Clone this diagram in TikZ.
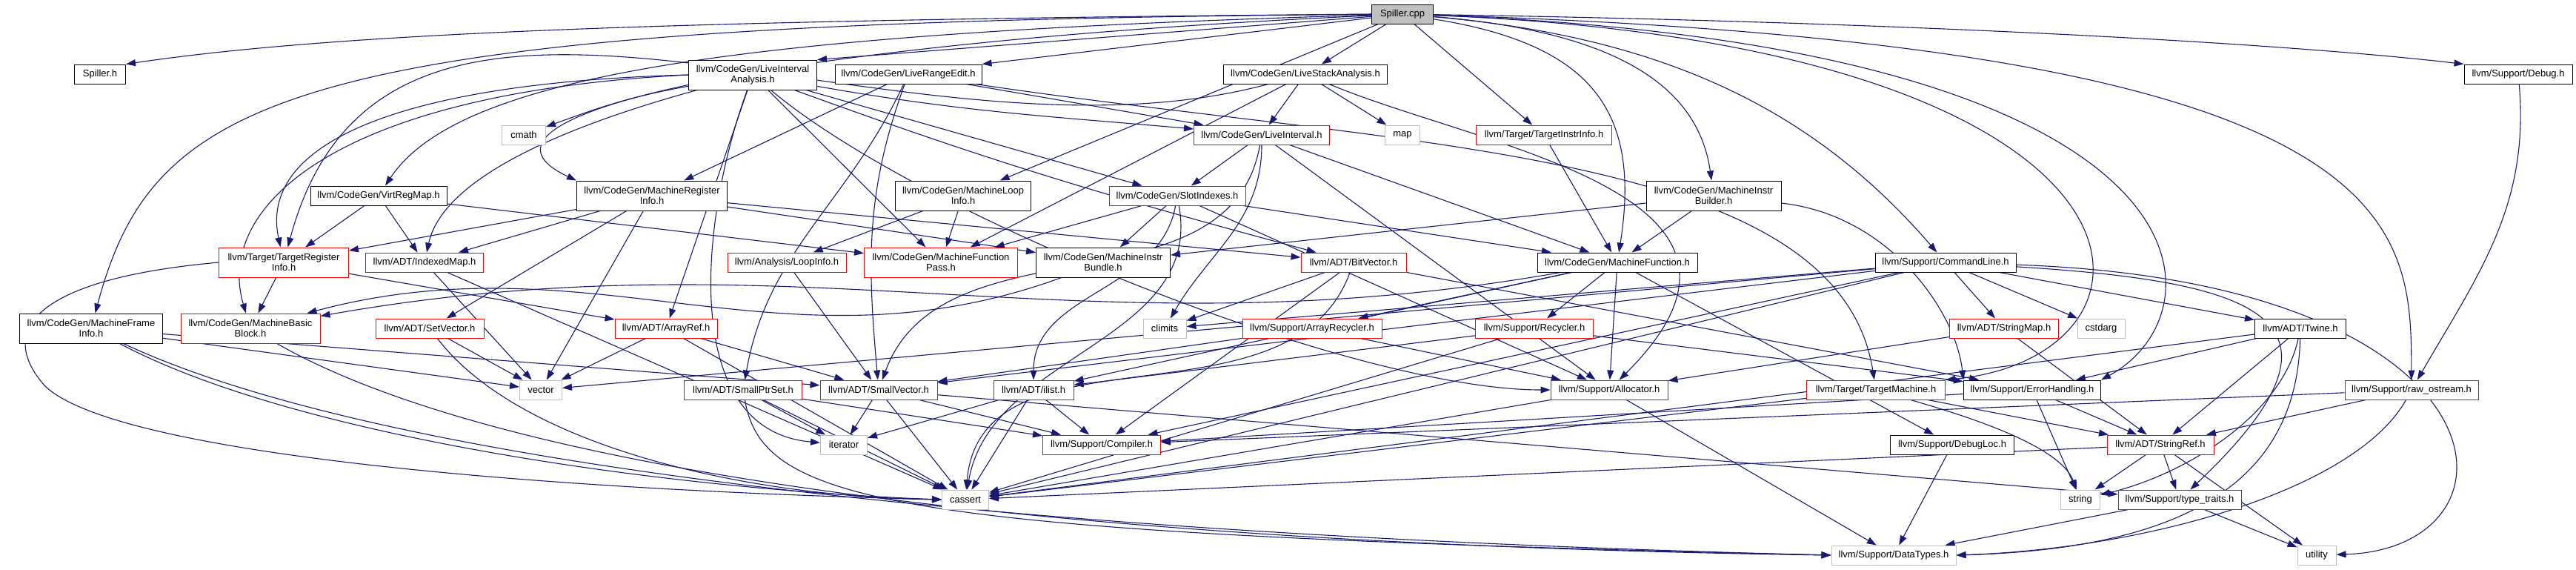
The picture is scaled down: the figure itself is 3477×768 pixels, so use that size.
\documentclass[tikz,border=0pt]{standalone}
\usepackage{fontspec}
\setmainfont{Liberation Sans}
\usetikzlibrary{arrows.meta}
\definecolor{edgeblue}{HTML}{191970}
\definecolor{extgrey}{HTML}{BFBFBF}
\pgfdeclarelayer{background}
\pgfsetlayers{background,main}

\begin{document}
\begin{tikzpicture}[x=0.1pt, y=-0.1pt,
  hdr/.style={draw, rectangle, fill=white, font=\fontsize{1.3}{1.4}\selectfont, align=center, inner sep=0pt, minimum height=2.6pt, line width=0.1pt},
  two/.style={minimum height=4pt},
  wd/.style={minimum width=#1*0.1pt},
  doc/.style={hdr, draw=black},
  trunc/.style={hdr, draw=red},
  ext/.style={hdr, draw=extgrey},
  dep/.style={draw=edgeblue, line width=0.11pt, -{Triangle[length=1.3pt,width=0.9pt]}}]
\useasboundingbox (0,0) rectangle (3477,768);

% rank 0 and 1
\node[doc, fill=extgrey, wd=83] (cpp) at (1893,19) {Spiller.cpp};
\node[doc, wd=69] (spillerh) at (135,100) {Spiller.h};
\node[doc, two, wd=173] (lia) at (1016,101) {llvm/CodeGen/LiveInterval\\Analysis.h};
\node[doc, wd=198] (lre) at (1226,100) {llvm/CodeGen/LiveRangeEdit.h};
\node[doc, wd=221] (lsa) at (1762,100) {llvm/CodeGen/LiveStackAnalysis.h};
\node[doc, wd=146] (debugh) at (3399,100) {llvm/Support/Debug.h};
% rank 2
\node[ext, wd=59] (cmath) at (707,182) {cmath};
\node[trunc, wd=183] (li) at (1703,182) {llvm/CodeGen/LiveInterval.h};
\node[ext, wd=47] (map) at (1893,182) {map};
\node[trunc, wd=183] (tii) at (2084,182) {llvm/Target/TargetInstrInfo.h};
% rank 3
\node[doc, wd=184] (vrm) at (511,264) {llvm/CodeGen/VirtRegMap.h};
\node[doc, two, wd=203] (mri) at (880,264) {llvm/CodeGen/MachineRegister\\Info.h};
\node[doc, two, wd=183] (mli) at (1300,264) {llvm/CodeGen/MachineLoop\\Info.h};
\node[trunc, wd=184] (slot) at (1589,264) {llvm/CodeGen/SlotIndexes.h};
\node[doc, two, wd=182] (mibuilder) at (2313,264) {llvm/CodeGen/MachineInstr\\Builder.h};
% rank 4
\node[trunc, two, wd=175] (tri) at (383,354) {llvm/Target/TargetRegister\\Info.h};
\node[trunc, wd=159] (indexedmap) at (573,354) {llvm/ADT/IndexedMap.h};
\node[trunc, wd=160] (loopinfo) at (1062,354) {llvm/Analysis/LoopInfo.h};
\node[trunc, two, wd=207] (mfp) at (1270,354) {llvm/CodeGen/MachineFunction\\Pass.h};
\node[doc, two, wd=181] (mibundle) at (1489,354) {llvm/CodeGen/MachineInstr\\Bundle.h};
\node[trunc, wd=142] (bitvector) at (1827,354) {llvm/ADT/BitVector.h};
\node[doc, wd=216] (mf) at (2183,354) {llvm/CodeGen/MachineFunction.h};
\node[doc, wd=190] (cl) at (2626,354) {llvm/Support/CommandLine.h};
% rank 5
\node[doc, two, wd=193] (mfi) at (123,443) {llvm/CodeGen/MachineFrame\\Info.h};
\node[trunc, two, wd=188] (mbb) at (338,443) {llvm/CodeGen/MachineBasic\\Block.h};
\node[trunc, wd=146] (setvector) at (580,443) {llvm/ADT/SetVector.h};
\node[trunc, wd=138] (arrayref) at (899,443) {llvm/ADT/ArrayRef.h};
\node[ext, wd=58] (climits) at (1572,443) {climits};
\node[trunc, wd=188] (arrayrecycler) at (1771,443) {llvm/Support/ArrayRecycler.h};
\node[trunc, wd=159] (recycler) at (2071,443) {llvm/Support/Recycler.h};
\node[trunc, wd=147] (stringmap) at (2705,443) {llvm/ADT/StringMap.h};
\node[ext, wd=64] (cstdarg) at (2836,443) {cstdarg};
\node[doc, wd=123] (twine) at (3105,443) {llvm/ADT/Twine.h};
% rank 6
\node[ext, wd=57] (vector) at (730,526) {vector};
\node[trunc, wd=159] (smallptrset) at (1003,526) {llvm/ADT/SmallPtrSet.h};
\node[trunc, wd=158] (smallvector) at (1186,526) {llvm/ADT/SmallVector.h};
\node[trunc, wd=108] (ilist) at (1395,526) {llvm/ADT/ilist.h};
\node[trunc, wd=158] (allocator) at (2172,526) {llvm/Support/Allocator.h};
\node[trunc, wd=187] (tm) at (2532,526) {llvm/Target/TargetMachine.h};
\node[doc, wd=185] (errhandling) at (2743,526) {llvm/Support/ErrorHandling.h};
\node[trunc, wd=180] (rawostream) at (3255,526) {llvm/Support/raw\_ostream.h};
% rank 7
\node[ext, wd=63] (iterator) at (1139,600) {iterator};
\node[trunc, wd=159] (compiler) at (1487,600) {llvm/Support/Compiler.h};
\node[doc, wd=167] (debugloc) at (2635,600) {llvm/Support/DebugLoc.h};
\node[trunc, wd=144] (stringref) at (2916,600) {llvm/ADT/StringRef.h};
% rank 8 and 9
\node[ext, wd=63] (cassert) at (1303,674) {cassert};
\node[ext, wd=53] (string) at (2808,674) {string};
\node[trunc, wd=166] (typetraits) at (2942,674) {llvm/Support/type\_traits.h};
\node[ext, wd=168] (datatypes) at (2556,749) {llvm/Support/DataTypes.h};
\node[ext, wd=52] (utility) at (3127,749) {utility};

\begin{pgfonlayer}{background}
% Spiller.cpp
\draw[dep] (cpp.west) .. controls (900,27) and (450,45) .. (spillerh.north east);
\draw[dep] (cpp) -- (lia.north east);
\draw[dep] (cpp) -- (lre.north east);
\draw[dep] (cpp) -- (lsa); \draw[dep] (cpp) -- (tii); \draw[dep] (cpp) -- (mli);
\draw[dep] (cpp) .. controls (1000,45) and (620,100) .. (vrm);
\draw[dep] (cpp) .. controls (1000,60) and (600,160) .. (mri.north west);
\draw[dep] (cpp) .. controls (400,30) and (210,120) .. (mfi);
\draw[dep] (cpp) .. controls (2150,40) and (2290,100) .. (mibuilder);
\draw[dep] (cpp) .. controls (2150,60) and (2215,150) .. (mf);
\draw[dep] (cpp) .. controls (2250,50) and (2450,150) .. (cl);
\draw[dep] (cpp) .. controls (2600,30) and (3100,60) .. (debugh.north west);
\draw[dep] (cpp) .. controls (2956,60) and (2956,480) .. (tm.north east);
\draw[dep] (cpp) .. controls (3006,60) and (3006,420) .. (errhandling.north east);
\draw[dep] (cpp) .. controls (3254,60) and (3254,300) .. (rawostream);
% rank 1
\draw[dep] (lia) to[out=190,in=20] (cmath);
\draw[dep] (lia) to[out=-10,in=175] (li);
\draw[dep] (lia) -- (slot); \draw[dep] (lia) -- (mfp); \draw[dep] (lia) -- (arrayref);
\draw[dep] (lia.west) .. controls (450,125) and (290,280) .. (mbb);
\draw[dep] (lia.west) .. controls (520,112) and (350,200) .. (tri);
\draw[dep] (lia) .. controls (800,160) and (600,230) .. (indexedmap);
\draw[dep] (lia) to[out=-110,in=175] (iterator);
\draw[dep] (lia) to[out=-40,in=180,looseness=0.6] (allocator);
\draw[dep] (lia) to[out=-20,in=165] (bitvector);
\draw[dep] (lre) -- (li); \draw[dep] (lre) -- (mri);
\draw[dep] (lre) to[out=-115,in=80] (smallptrset);
\draw[dep] (lre) to[out=-110,in=95] (smallvector);
\draw[dep] (lre) .. controls (1900,200) and (2480,200) .. (tm);
\draw[dep] (lsa) -- (li); \draw[dep] (lsa) -- (map); \draw[dep] (lsa) -- (mfp);
\draw[dep] (lsa) to[out=195,in=75] (tri);
\draw[dep] (lsa) .. controls (2000,200) and (2440,260) .. (allocator);
\draw[dep] (debugh) to[out=-85,in=60] (rawostream);
% rank 2 and 3
\draw[dep] (li) -- (slot); \draw[dep] (li) -- (mf); \draw[dep] (li) -- (allocator);
\draw[dep] (li) to[out=-90,in=60] (climits);
\draw[dep] (li) to[out=-100,in=70] (smallvector);
\draw[dep] (tii) -- (mf);
\draw[dep] (vrm) -- (tri); \draw[dep] (vrm) -- (indexedmap); \draw[dep] (vrm) -- (mfp);
\draw[dep] (mri) -- (tri); \draw[dep] (mri) -- (indexedmap); \draw[dep] (mri) -- (mibundle);
\draw[dep] (mri) -- (bitvector); \draw[dep] (mri) -- (vector); \draw[dep] (mri) -- (setvector);
\draw[dep] (mli) -- (loopinfo); \draw[dep] (mli) -- (mfp);
\draw[dep] (slot) -- (mfp); \draw[dep] (slot) -- (mibundle); \draw[dep] (slot) -- (mf); \draw[dep] (slot) -- (allocator);
\draw[dep] (slot) to[out=-100,in=90] (ilist);
\draw[dep] (slot) to[out=-80,in=80] (cassert);
\draw[dep] (mibuilder) -- (mf); \draw[dep] (mibuilder) -- (mibundle);
\draw[dep] (mibuilder) .. controls (2550,290) and (2640,420) .. (errhandling.north west);
% rank 4
\draw[dep] (tri) -- (mbb); \draw[dep] (tri) -- (arrayref);
\draw[dep] (tri.west) .. controls (60,375) and (-10,440) .. (60,520) .. controls (150,610) and (700,660) .. (cassert.west);
\draw[dep] (indexedmap) -- (vector); \draw[dep] (indexedmap) -- (cassert);
\draw[dep] (loopinfo) -- (smallvector);
\draw[dep] (mibundle) to[out=200,in=15] (mbb);
\draw[dep] (bitvector) -- (climits); \draw[dep] (bitvector) -- (compiler); \draw[dep] (bitvector) -- (errhandling);
\draw[dep] (bitvector) to[out=-110,in=85] (cassert);
\draw[dep] (mf) to[out=190,in=10] (mbb);
\draw[dep] (mf) -- (arrayrecycler); \draw[dep] (mf) -- (recycler); \draw[dep] (mf) -- (allocator);
\draw[dep] (mf) -- (debugloc); \draw[dep] (mf) -- (ilist);
\draw[dep] (cl) -- (vector); \draw[dep] (cl) -- (climits); \draw[dep] (cl) -- (smallvector);
\draw[dep] (cl) -- (stringmap); \draw[dep] (cl) -- (cstdarg); \draw[dep] (cl) -- (twine);
\draw[dep] (cl) -- (cassert); \draw[dep] (cl) -- (compiler);
\draw[dep] (cl) .. controls (3050,380) and (3200,430) .. (typetraits);
\draw[dep] (cl) .. controls (3400,380) and (3420,740) .. (utility);
% rank 5
\draw[dep] (mfi) -- (vector); \draw[dep] (mfi) -- (smallvector);
\draw[dep] (mfi) .. controls (400,590) and (900,660) .. (cassert.west);
\draw[dep] (mfi) .. controls (500,620) and (1300,720) .. (datatypes.west);
\draw[dep] (mbb) .. controls (700,650) and (1500,735) .. (datatypes.west);
\draw[dep] (setvector) -- (vector);
\draw[dep] (setvector) .. controls (700,600) and (1000,670) .. (cassert.west);
\draw[dep] (arrayref) -- (vector); \draw[dep] (arrayref) -- (smallvector); \draw[dep] (arrayref) -- (cassert);
\draw[dep] (arrayrecycler) -- (smallvector); \draw[dep] (arrayrecycler) -- (allocator);
\draw[dep] (recycler) -- (ilist); \draw[dep] (recycler) -- (cassert); \draw[dep] (recycler) -- (errhandling);
\draw[dep] (stringmap) -- (stringref); \draw[dep] (stringmap) -- (allocator);
\draw[dep] (twine) -- (errhandling); \draw[dep] (twine) -- (stringref); \draw[dep] (twine) -- (cassert);
\draw[dep] (twine) .. controls (3080,560) and (2950,640) .. (string);
\draw[dep] (twine) .. controls (3100,650) and (2950,740) .. (datatypes.east);
% rank 6
\draw[dep] (allocator) -- (cassert); \draw[dep] (allocator) -- (datatypes);
\draw[dep] (tm) -- (stringref); \draw[dep] (tm) -- (cassert);
\draw[dep] (tm) .. controls (2650,560) and (2780,600) .. (string);
\draw[dep] (errhandling) -- (compiler); \draw[dep] (errhandling) -- (stringref); \draw[dep] (errhandling) -- (string);
\draw[dep] (rawostream) -- (stringref); \draw[dep] (rawostream) -- (compiler);
\draw[dep] (rawostream) .. controls (3180,660) and (2900,740) .. (datatypes.east);
\draw[dep] (ilist) -- (iterator); \draw[dep] (ilist) -- (compiler); \draw[dep] (ilist) -- (cassert);
\draw[dep] (smallptrset) -- (iterator); \draw[dep] (smallptrset) -- (compiler); \draw[dep] (smallptrset) -- (cassert);
\draw[dep] (smallptrset) .. controls (1030,680) and (1200,720) .. (datatypes.west);
\draw[dep] (smallvector) -- (iterator); \draw[dep] (smallvector) -- (cassert);
\draw[dep] (smallvector) -- (compiler); \draw[dep] (smallvector) -- (typetraits);
% rank 7 and 8
\draw[dep] (stringref) -- (string); \draw[dep] (stringref) -- (typetraits);
\draw[dep] (stringref) -- (utility); \draw[dep] (stringref) -- (cassert);
\draw[dep] (debugloc) -- (datatypes);
\draw[dep] (typetraits) -- (datatypes); \draw[dep] (typetraits) -- (utility);
\end{pgfonlayer}
\end{tikzpicture}
\end{document}
